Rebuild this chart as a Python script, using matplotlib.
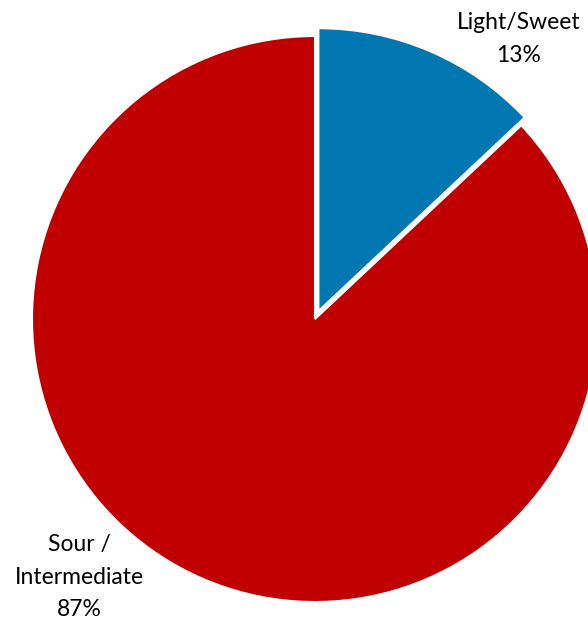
import matplotlib.pyplot as plt

categories = ['Light/Sweet', 'Sour /\nIntermediate']
shares = [13, 87]
colors = ['#0077B0', '#C00000']

W, H = 588, 619
R = 283.0          # pie radius in pixels
cx, cy = 315, 300  # pie centre, pixels from lower-left

fig = plt.figure(figsize=(W / 100, H / 100), dpi=100)
ax = fig.add_axes([0, 0, 1, 1])

wedges, _ = ax.pie(shares, colors=colors, startangle=90, counterclock=False,
                   explode=[0.03, 0], radius=1,
                   wedgeprops=dict(edgecolor='white', linewidth=1.5))

# pie() resets the limits, so fix them afterwards
ax.set_xlim(-cx / R, (W - cx) / R)
ax.set_ylim(-cy / R, (H - cy) / R)
ax.set_aspect('equal')
ax.axis('off')

font = dict(family=['Lato', 'DejaVu Sans'], fontsize=16.5, color='black',
            ha='center', va='center', linespacing=1.65)

def px(x, y_top):
    return (x - cx) / R, (H - y_top - cy) / R

ax.text(*px(519, 39), f'{categories[0]}\n{shares[0]}%', **font)
ax.text(*px(79, 577), f'{categories[1]}\n{shares[1]}%', **font)

fig.savefig('out.png', dpi=100)
